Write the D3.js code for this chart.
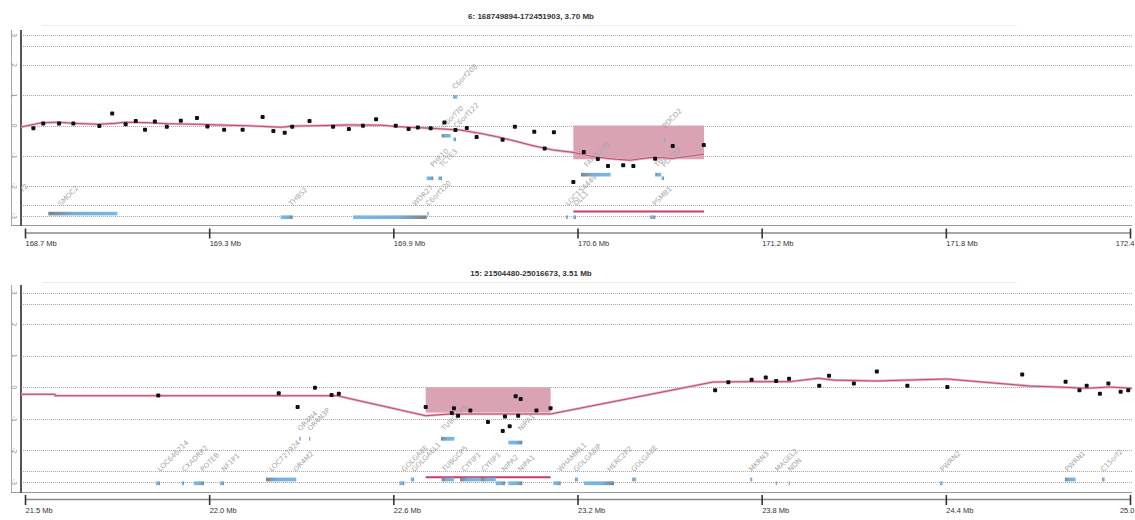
<!DOCTYPE html>
<html>
<head>
<meta charset="utf-8">
<script src="https://cdn.jsdelivr.net/npm/d3@7"></script>
<style>
  body { margin: 0; background: #fff; }
  svg { display: block; }
</style>
</head>
<body>
<script>
// ---------- chromosome 6 region ----------
const chr6Title = "6: 168749894-172451903, 3.70 Mb";
const chr6Range = [168.749894, 172.451903];
const chr6TickLabels = ["168.7 Mb", "169.3 Mb", "169.9 Mb", "170.6 Mb", "171.2 Mb", "171.8 Mb", "172.4"];
const chr6ProbePos = [168.778, 168.811, 168.864, 168.912, 168.999, 169.042, 169.087, 169.121, 169.152, 169.185,
  169.225, 169.272, 169.326, 169.361, 169.417, 169.479, 169.546, 169.582, 169.620, 169.645,
  169.703, 169.782, 169.835, 169.882, 169.926, 169.992, 170.035, 170.066, 170.109, 170.155,
  170.192, 170.230, 170.263, 170.350, 170.391, 170.456, 170.491, 170.522, 170.587, 170.622,
  170.669, 170.703, 170.754, 170.788, 170.861, 170.920, 171.024];
const chr6ProbeLog2 = [-0.09, 0.07, 0.07, 0.07, -0.02, 0.40, 0.04, 0.15, -0.14, 0.13,
  -0.04, 0.16, 0.25, -0.03, -0.14, -0.14, 0.28, -0.18, -0.24, -0.04,
  0.15, -0.04, -0.12, -0.01, 0.21, -0.01, -0.12, -0.07, -0.09, 0.10,
  -0.15, -0.08, -0.38, -0.47, -0.04, -0.21, -0.76, -0.22, -1.87, -0.88,
  -1.11, -1.34, -1.32, -1.34, -1.10, -0.68, -0.65];
const chr6SegPos = [168.7365, 168.8058, 168.8615, 168.9174, 168.9955, 169.0514, 169.0849, 169.163, 169.2299, 169.3305,
  169.3864, 169.498, 169.6099, 169.6434, 169.7215, 169.833, 169.9449, 170.0005, 170.1067, 170.2072,
  170.2742, 170.3302, 170.3848, 170.4518, 170.5188, 170.5858, 170.6528, 170.7198, 170.7768, 170.8538,
  170.9208, 171.0247];
const chr6SegLog2 = [-0.05, 0.09, 0.11, 0.07, 0.04, 0.07, 0.11, 0.09, 0.06, 0.04,
  0.02, -0.01, -0.06, -0.02, -0.01, 0.02, 0.01, -0.04, -0.09, -0.15,
  -0.26, -0.37, -0.50, -0.67, -0.81, -0.89, -1.03, -1.11, -1.15, -1.05,
  -1.09, -0.95];
const chr6CnvStart = [170.587];
const chr6CnvEnd = [171.0247];
const chr6CnvLog2 = [-1.12];
const chr6GeneName = ["C6orf72", "SMOC2", "THBS2", "WDR27", "C6orf120", "PHF10", "TCTE3", "C6orf70", "C6orf122",
  "C6orf208", "LOC154449", "DLL1", "FAM120B", "TBP", "PDCD2", "PDCD2", "PSMB1"];
const chr6GeneStart = [168.685, 168.828, 169.6065, 169.8498, 170.0983, 170.0957, 170.1345, 170.1459, 170.1848,
  170.1848, 170.5624, 170.5868, 170.6126, 170.8615, 170.8823, 170.8907, 170.8438];
const chr6GeneEnd = [168.6936, 169.059, 169.6467, 170.0957, 170.1006, 170.1178, 170.1469, 170.1760, 170.1938,
  170.1982, 170.5681, 170.5958, 170.7121, 170.8816, 170.8907, 170.8940, 170.8615];
const chr6GeneStrand = ["-", "+", "-", "-", "+", "-", "-", "+", "-", "+", "-", "-", "+", "+", "-", "+", "-"];
const chr6GeneTier = [0, 0, 0, 0, 0, 1, 1, 2, 2, 3, 0, 0, 1, 1, 1, 2, 0];
const chr6GeneLane = [0, 0, 1, 1, 0, 1, 1, 0, 1, 0, 1, 1, 0, 0, 1, 1, 1];

// ---------- chromosome 15 region ----------
const chr15Title = "15: 21504480-25016673, 3.51 Mb";
const chr15Range = [21.50448, 25.016673];
const chr15TickLabels = ["21.5 Mb", "22.0 Mb", "22.6 Mb", "23.2 Mb", "23.8 Mb", "24.4 Mb", "25.0"];
const chr15ProbePos = [21.928, 22.311, 22.371, 22.426, 22.479, 22.502, 22.778, 22.861, 22.868, 22.881,
  22.920, 22.976, 23.023, 23.030, 23.045, 23.064, 23.072, 23.080, 23.130, 23.175,
  23.698, 23.740, 23.814, 23.859, 23.892, 23.933, 24.029, 24.060, 24.139, 24.212,
  24.309, 24.436, 24.674, 24.812, 24.856, 24.879, 24.921, 24.948, 24.987, 25.011];
const chr15ProbeLog2 = [-0.26, -0.19, -0.62, -0.01, -0.24, -0.20, -0.62, -0.81, -0.66, -0.90,
  -0.73, -1.10, -1.38, -0.92, -1.23, -0.28, -0.90, -0.37, -0.73, -0.66,
  -0.09, 0.16, 0.24, 0.31, 0.20, 0.27, 0.05, 0.37, 0.12, 0.50,
  0.05, 0.01, 0.41, 0.18, -0.09, 0.05, -0.20, 0.12, -0.14, -0.09];
const chr15SegPos = [21.4918, 21.5998, 21.5998, 22.4962, 22.778, 22.855, 23.110, 23.175, 23.692, 23.814,
  23.936, 24.026, 24.074, 24.212, 24.307, 24.434, 24.699, 24.816, 24.879, 24.953, 25.027];
const chr15SegLog2 = [-0.22, -0.22, -0.265, -0.265, -0.90, -0.845, -0.845, -0.845, 0.17, 0.18,
  0.18, 0.29, 0.23, 0.20, 0.23, 0.265, 0.04, 0.00, -0.03, 0.01, -0.03];
const chr15CnvStart = [22.778];
const chr15CnvEnd = [23.175];
const chr15CnvLog2 = [-0.80];
const chr15GeneName = ["LOC646214", "CXADRP2", "POTEB", "NF1P1", "LOC727924", "OR4M2", "OR4N4", "OR4N3P",
  "GOLGA8E", "GOLGA6L1", "TUBGCP5", "NIPA1", "TUBGCP5", "CYFIP1", "CYFIP1", "NIPA2", "NIPA1", "WHAMML1",
  "GOLGA8IP", "HERC2P2", "GOLGA8E", "MKRN3", "MAGEL2", "NDN", "PWRN2", "PWRN1", "C15orf2"];
const chr15GeneStart = [21.9209, 22.0035, 22.0417, 22.1243, 22.2705, 22.3627, 22.3764, 22.4072, 22.6942, 22.7305,
  22.8268, 23.0407, 22.8290, 22.8871, 22.9529, 23.0007, 23.0407, 23.1837, 23.2527, 23.2813,
  23.4348, 23.8099, 23.8906, 23.9319, 24.4128, 24.8101, 24.9277];
const chr15GeneEnd = [21.9336, 22.0099, 22.0735, 22.1370, 22.3627, 22.3659, 22.3808, 22.4113, 22.7101, 22.7409,
  22.8690, 23.0852, 22.8681, 22.9529, 23.0007, 23.0302, 23.0852, 23.2072, 23.2622, 23.3766,
  23.4471, 23.8162, 23.8948, 23.9361, 24.4202, 24.8441, 24.9363];
const chr15GeneStrand = ["-", "-", "-", "-", "+", "+", "+", "+", "-", "-", "+", "-", "+", "+", "+", "-", "-", "-",
  "+", "-", "+", "+", "-", "-", "-", "+", "+"];
const chr15GeneTier = [0, 0, 0, 0, 0, 0, 1, 1, 0, 0, 1, 1, 0, 0, 0, 0, 0, 0, 0, 0, 0, 0, 0, 0, 0, 0, 0];
const chr15GeneLane = [1, 1, 1, 1, 0, 0, 0, 0, 1, 0, 0, 1, 0, 0, 0, 1, 1, 1, 0, 1, 0, 0, 1, 1, 1, 0, 0];

// shared y reference levels (log2 ratio)
const gridLevels = [3, 2.65, 2, 1, 0, -1, -2, -2.65, -3];
const yTickValues = [3, 2, 1, 0, -1, -2, -3];

// ---------- build panel tables ----------
function zip(keys, arrays) {
  return arrays[0].map((_, i) => Object.fromEntries(keys.map((k, j) => [k, arrays[j][i]])));
}
const panels = [
  {
    title: chr6Title, range: chr6Range, ticks: chr6TickLabels,
    probes: zip(["pos", "v"], [chr6ProbePos, chr6ProbeLog2]),
    seg: zip(["pos", "v"], [chr6SegPos, chr6SegLog2]),
    cnv: zip(["start", "end", "v"], [chr6CnvStart, chr6CnvEnd, chr6CnvLog2]),
    genes: zip(["name", "start", "end", "strand", "tier", "lane"],
      [chr6GeneName, chr6GeneStart, chr6GeneEnd, chr6GeneStrand, chr6GeneTier, chr6GeneLane]),
    box: { titleY: 19, ruleY: 25.5, top: 30, bottom: 225, y3: 35, yM3: 216, axisY: 233 }
  },
  {
    title: chr15Title, range: chr15Range, ticks: chr15TickLabels,
    probes: zip(["pos", "v"], [chr15ProbePos, chr15ProbeLog2]),
    seg: zip(["pos", "v"], [chr15SegPos, chr15SegLog2]),
    cnv: zip(["start", "end", "v"], [chr15CnvStart, chr15CnvEnd, chr15CnvLog2]),
    genes: zip(["name", "start", "end", "strand", "tier", "lane"],
      [chr15GeneName, chr15GeneStart, chr15GeneEnd, chr15GeneStrand, chr15GeneTier, chr15GeneLane]),
    box: { titleY: 276, ruleY: 282.5, top: 285, bottom: 492, y3: 292.7, yM3: 482, axisY: 499.5 }
  }
];

const W = 1135, H = 520;
const PLOT_L = 21, PLOT_R = 1132, X0 = 25, X1 = 1130;
const labelFont = "'DejaVu Sans', Verdana, sans-serif";
const axisFont = "'Liberation Sans', Arial, sans-serif";

const svg = d3.select("body").append("svg").attr("width", W).attr("height", H);
const defs = svg.append("defs");

// strand gradients: grey at the transcription start, blue along the body
function strandGradient(id, reverse) {
  const stops = [[0, "#7b838c"], [0.38, "#77aedb"], [1, "#76b9ec"]];
  const gr = defs.append("linearGradient").attr("id", id)
    .attr("x1", reverse ? 1 : 0).attr("x2", reverse ? 0 : 1).attr("y1", 0).attr("y2", 0);
  stops.forEach(([o, c]) => gr.append("stop").attr("offset", o).attr("stop-color", c));
}
strandGradient("strandPlus", false);
strandGradient("strandMinus", true);

const tierV = t => -2.68 + 1.29 * t;

panels.forEach((p, idx) => {
  const b = p.box;
  const g = svg.append("g");
  const x = d3.scaleLinear().domain(p.range).range([X0, X1]);
  const y = d3.scaleLinear().domain([-3, 3]).range([b.yM3, b.y3]);

  defs.append("clipPath").attr("id", "plotClip" + idx)
    .append("rect").attr("x", PLOT_L).attr("y", b.top)
    .attr("width", PLOT_R - PLOT_L).attr("height", b.bottom - b.top);

  // title and faint rule under it
  g.append("text")
    .attr("x", 531).attr("y", b.titleY)
    .attr("text-anchor", "middle")
    .attr("font-family", axisFont).attr("font-weight", "bold").attr("font-size", 8)
    .attr("fill", "#333").text(p.title);
  g.append("line").attr("x1", 42).attr("x2", 1017).attr("y1", b.ruleY).attr("y2", b.ruleY)
    .attr("stroke", "#ededed").attr("stroke-width", 1);

  // dotted reference lines
  g.append("g").selectAll("line").data(gridLevels).join("line")
    .attr("x1", PLOT_L).attr("x2", PLOT_R)
    .attr("y1", d => Math.round(y(d)) + 0.5).attr("y2", d => Math.round(y(d)) + 0.5)
    .attr("stroke", "#a9a9a9").attr("stroke-width", 1).attr("stroke-dasharray", "1,1");

  // rotated y labels in the side strip
  g.append("g").selectAll("text").data(yTickValues).join("text")
    .attr("transform", d => `translate(14.5,${y(d)}) rotate(90)`)
    .attr("text-anchor", "middle").attr("dy", "0.35em")
    .attr("font-family", labelFont).attr("font-size", 6.5).attr("fill", "#8f8f8f")
    .text(d => d);

  // frame
  g.append("line").attr("x1", 11.5).attr("x2", 11.5).attr("y1", b.top).attr("y2", b.bottom)
    .attr("stroke", "#a8a8a8").attr("stroke-width", 1);
  g.append("line").attr("x1", 11).attr("x2", PLOT_R).attr("y1", b.bottom + 0.5).attr("y2", b.bottom + 0.5)
    .attr("stroke", "#9a9a9a").attr("stroke-width", 1);
  g.append("line").attr("x1", PLOT_L).attr("x2", PLOT_L).attr("y1", b.top).attr("y2", b.bottom + 1)
    .attr("stroke", "#555").attr("stroke-width", 2);

  const plot = g.append("g").attr("clip-path", `url(#plotClip${idx})`);

  // aberration call: shaded band from 0 down to the segment level
  plot.selectAll("rect.cnv").data(p.cnv).join("rect").attr("class", "cnv")
    .attr("x", d => x(d.start)).attr("width", d => x(d.end) - x(d.start))
    .attr("y", y(0)).attr("height", d => y(d.v) - y(0))
    .attr("fill", "#d9a3b4");
  // and its span marker in the gene track
  plot.selectAll("line.cnvspan").data(p.cnv).join("line").attr("class", "cnvspan")
    .attr("x1", d => x(d.start)).attr("x2", d => x(d.end))
    .attr("y1", y(tierV(0) - 0.17)).attr("y2", y(tierV(0) - 0.17))
    .attr("stroke", "#c33d66").attr("stroke-width", 1.8);

  // genes
  const barTop = d => y(tierV(d.tier) - (d.lane ? 0.30 : 0.18));
  const barH = Math.abs(y(0.12) - y(0));
  plot.selectAll("rect.gene").data(p.genes).join("rect").attr("class", "gene")
    .attr("x", d => x(d.start))
    .attr("width", d => Math.max(1.3, x(d.end) - x(d.start)))
    .attr("y", barTop).attr("height", barH)
    .attr("fill", d => d.strand === "+" ? "url(#strandPlus)" : "url(#strandMinus)");

  const labelX = d => {
    const w = x(d.end) - x(d.start);
    return d.strand === "+" ? x(d.start) + 0.17 * w + 1 : x(d.end) - 0.17 * w + 1;
  };
  plot.selectAll("text.gene").data(p.genes).join("text").attr("class", "gene")
    .attr("transform", d => `translate(${labelX(d)},${y(tierV(d.tier))}) rotate(-45)`)
    .attr("font-family", labelFont).attr("font-size", 7).attr("fill", "#a6a6a6")
    .text(d => d.name);

  // segmentation line
  const line = d3.line().x(d => x(d.pos)).y(d => y(d.v));
  plot.append("path").datum(p.seg).attr("d", line)
    .attr("fill", "none").attr("stroke", "#e4b0c1").attr("stroke-width", 2.6);
  plot.append("path").datum(p.seg).attr("d", line)
    .attr("fill", "none").attr("stroke", "#c24a71").attr("stroke-width", 1);

  // probe log2 ratios
  plot.selectAll("rect.probe").data(p.probes).join("rect").attr("class", "probe")
    .attr("x", d => x(d.pos) - 2).attr("y", d => y(d.v) - 2)
    .attr("width", 4).attr("height", 4).attr("rx", 1)
    .attr("fill", "#111");

  // genomic position ruler
  const tickVals = d3.range(7).map(i => p.range[0] + i * (p.range[1] - p.range[0]) / 6);
  const last = tickVals.length - 1;
  g.append("line").attr("x1", X0).attr("x2", X1).attr("y1", b.axisY).attr("y2", b.axisY)
    .attr("stroke", "#8a8a8a").attr("stroke-width", 1.5);
  const axis = d3.axisBottom(x).tickValues(tickVals)
    .tickFormat((d, i) => p.ticks[i]).tickSizeInner(10).tickSizeOuter(0);
  const ax = g.append("g").attr("transform", `translate(0,${b.axisY - 4.5})`).call(axis);
  ax.select(".domain").remove();
  ax.selectAll(".tick line").attr("stroke", "#333").attr("stroke-width", 1.6);
  // labels sit to the right of their tick; the last one is pulled back inside the edge
  ax.selectAll(".tick text")
    .attr("font-family", axisFont).attr("font-size", 7.5).attr("fill", "#333")
    .attr("y", 15.5).attr("dy", "0.32em")
    .attr("text-anchor", (d, i) => i === last ? "end" : "start")
    .attr("x", (d, i) => i === last ? W - 1 - x(d) : 0);
});
</script>
</body>
</html>
